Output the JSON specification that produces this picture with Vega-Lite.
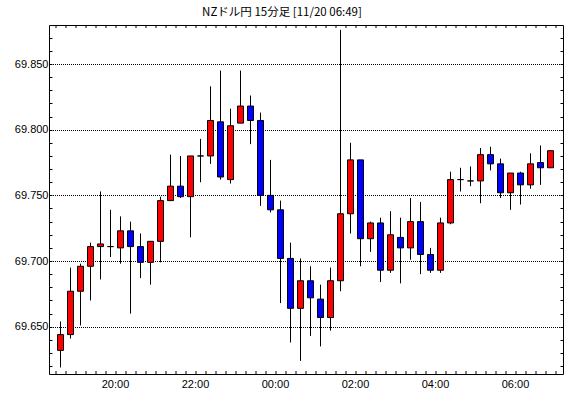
{
  "$schema": "https://vega.github.io/schema/vega-lite/v6.json",
  "width": 514,
  "height": 349,
  "autosize": {"type": "none"},
  "padding": {"left": 49, "top": 25, "right": 7, "bottom": 24},
  "background": "white",
  "title": {"text": "NZドル円 15分足 [11/20 06:49]", "font": "Noto Sans CJK JP", "fontSize": 11.5, "fontWeight": "normal", "color": "black", "anchor": "middle", "dx": -24, "offset": 6},
  "config": {
    "view": {"stroke": "black", "strokeWidth": 1},
    "axis": {"domain": false, "tickColor": "black", "labelColor": "black", "labelFont": "Liberation Sans", "labelFontSize": 11, "title": null}
  },
  "data": {"values": [
    {"t": "2024-11-19T18:30:00Z", "o": 69.632, "h": 69.654, "l": 69.619, "c": 69.644},
    {"t": "2024-11-19T18:45:00Z", "o": 69.644, "h": 69.695, "l": 69.641, "c": 69.677},
    {"t": "2024-11-19T19:00:00Z", "o": 69.677, "h": 69.698, "l": 69.651, "c": 69.696},
    {"t": "2024-11-19T19:15:00Z", "o": 69.696, "h": 69.714, "l": 69.670, "c": 69.711},
    {"t": "2024-11-19T19:30:00Z", "o": 69.711, "h": 69.753, "l": 69.686, "c": 69.713},
    {"t": "2024-11-19T19:45:00Z", "o": 69.711, "h": 69.739, "l": 69.703, "c": 69.711},
    {"t": "2024-11-19T20:00:00Z", "o": 69.710, "h": 69.734, "l": 69.698, "c": 69.723},
    {"t": "2024-11-19T20:15:00Z", "o": 69.723, "h": 69.730, "l": 69.660, "c": 69.711},
    {"t": "2024-11-19T20:30:00Z", "o": 69.711, "h": 69.721, "l": 69.687, "c": 69.699},
    {"t": "2024-11-19T20:45:00Z", "o": 69.699, "h": 69.715, "l": 69.682, "c": 69.715},
    {"t": "2024-11-19T21:00:00Z", "o": 69.715, "h": 69.749, "l": 69.699, "c": 69.746},
    {"t": "2024-11-19T21:15:00Z", "o": 69.746, "h": 69.781, "l": 69.746, "c": 69.757},
    {"t": "2024-11-19T21:30:00Z", "o": 69.757, "h": 69.780, "l": 69.748, "c": 69.749},
    {"t": "2024-11-19T21:45:00Z", "o": 69.749, "h": 69.780, "l": 69.718, "c": 69.780},
    {"t": "2024-11-19T22:00:00Z", "o": 69.780, "h": 69.793, "l": 69.760, "c": 69.780},
    {"t": "2024-11-19T22:15:00Z", "o": 69.780, "h": 69.833, "l": 69.774, "c": 69.807},
    {"t": "2024-11-19T22:30:00Z", "o": 69.806, "h": 69.845, "l": 69.762, "c": 69.764},
    {"t": "2024-11-19T22:45:00Z", "o": 69.762, "h": 69.816, "l": 69.759, "c": 69.803},
    {"t": "2024-11-19T23:00:00Z", "o": 69.805, "h": 69.845, "l": 69.805, "c": 69.818},
    {"t": "2024-11-19T23:15:00Z", "o": 69.818, "h": 69.826, "l": 69.789, "c": 69.807},
    {"t": "2024-11-19T23:30:00Z", "o": 69.807, "h": 69.813, "l": 69.742, "c": 69.750},
    {"t": "2024-11-19T23:45:00Z", "o": 69.750, "h": 69.777, "l": 69.737, "c": 69.739},
    {"t": "2024-11-20T00:00:00Z", "o": 69.739, "h": 69.746, "l": 69.668, "c": 69.702},
    {"t": "2024-11-20T00:15:00Z", "o": 69.702, "h": 69.714, "l": 69.638, "c": 69.664},
    {"t": "2024-11-20T00:30:00Z", "o": 69.664, "h": 69.702, "l": 69.624, "c": 69.685},
    {"t": "2024-11-20T00:45:00Z", "o": 69.685, "h": 69.696, "l": 69.643, "c": 69.672},
    {"t": "2024-11-20T01:00:00Z", "o": 69.671, "h": 69.682, "l": 69.635, "c": 69.657},
    {"t": "2024-11-20T01:15:00Z", "o": 69.657, "h": 69.695, "l": 69.647, "c": 69.685},
    {"t": "2024-11-20T01:30:00Z", "o": 69.685, "h": 69.876, "l": 69.677, "c": 69.736},
    {"t": "2024-11-20T01:45:00Z", "o": 69.736, "h": 69.790, "l": 69.721, "c": 69.777},
    {"t": "2024-11-20T02:00:00Z", "o": 69.777, "h": 69.777, "l": 69.696, "c": 69.717},
    {"t": "2024-11-20T02:15:00Z", "o": 69.717, "h": 69.730, "l": 69.707, "c": 69.729},
    {"t": "2024-11-20T02:30:00Z", "o": 69.729, "h": 69.733, "l": 69.684, "c": 69.693},
    {"t": "2024-11-20T02:45:00Z", "o": 69.693, "h": 69.738, "l": 69.691, "c": 69.720},
    {"t": "2024-11-20T03:00:00Z", "o": 69.718, "h": 69.733, "l": 69.683, "c": 69.710},
    {"t": "2024-11-20T03:15:00Z", "o": 69.710, "h": 69.748, "l": 69.701, "c": 69.730},
    {"t": "2024-11-20T03:30:00Z", "o": 69.730, "h": 69.745, "l": 69.690, "c": 69.705},
    {"t": "2024-11-20T03:45:00Z", "o": 69.705, "h": 69.710, "l": 69.691, "c": 69.693},
    {"t": "2024-11-20T04:00:00Z", "o": 69.693, "h": 69.733, "l": 69.691, "c": 69.729},
    {"t": "2024-11-20T04:15:00Z", "o": 69.729, "h": 69.768, "l": 69.728, "c": 69.762},
    {"t": "2024-11-20T04:30:00Z", "o": 69.762, "h": 69.771, "l": 69.753, "c": 69.762},
    {"t": "2024-11-20T04:45:00Z", "o": 69.761, "h": 69.772, "l": 69.757, "c": 69.761},
    {"t": "2024-11-20T05:00:00Z", "o": 69.761, "h": 69.786, "l": 69.744, "c": 69.781},
    {"t": "2024-11-20T05:15:00Z", "o": 69.781, "h": 69.787, "l": 69.769, "c": 69.774},
    {"t": "2024-11-20T05:30:00Z", "o": 69.774, "h": 69.778, "l": 69.748, "c": 69.752},
    {"t": "2024-11-20T05:45:00Z", "o": 69.752, "h": 69.767, "l": 69.739, "c": 69.767},
    {"t": "2024-11-20T06:00:00Z", "o": 69.767, "h": 69.768, "l": 69.743, "c": 69.758},
    {"t": "2024-11-20T06:15:00Z", "o": 69.758, "h": 69.782, "l": 69.755, "c": 69.774},
    {"t": "2024-11-20T06:30:00Z", "o": 69.775, "h": 69.788, "l": 69.758, "c": 69.771},
    {"t": "2024-11-20T06:45:00Z", "o": 69.771, "h": 69.784, "l": 69.771, "c": 69.784}
  ]},
  "layer": [
    {
      "mark": {"type": "rule", "color": "black", "strokeWidth": 1, "xOffset": 5},
      "encoding": {
        "x": {"field": "t", "type": "temporal",
          "scale": {"type": "utc", "domain": [1732040415000, 1732086675000], "padding": 0},
          "axis": {"orient": "bottom", "grid": false, "offset": -3, "tickSize": 3, "translate": 0,
            "values": [1732041000000, 1732041900000, 1732042800000, 1732043700000, 1732044600000, 1732045500000, 1732046400000, 1732047300000, 1732048200000, 1732049100000, 1732050000000, 1732050900000, 1732051800000, 1732052700000, 1732053600000, 1732054500000, 1732055400000, 1732056300000, 1732057200000, 1732058100000, 1732059000000, 1732059900000, 1732060800000, 1732061700000, 1732062600000, 1732063500000, 1732064400000, 1732065300000, 1732066200000, 1732067100000, 1732068000000, 1732068900000, 1732069800000, 1732070700000, 1732071600000, 1732072500000, 1732073400000, 1732074300000, 1732075200000, 1732076100000, 1732077000000, 1732077900000, 1732078800000, 1732079700000, 1732080600000, 1732081500000, 1732082400000, 1732083300000, 1732084200000, 1732085100000, 1732086000000],
            "labelExpr": "utchours(datum.value) % 2 == 0 && utcminutes(datum.value) == 0 ? utcFormat(datum.value, '%H:%M') : ''",
            "labelOverlap": false, "labelFlush": false, "labelPadding": 5}},
        "y": {"field": "l", "type": "quantitative",
          "scale": {"domain": [69.614, 69.8797], "nice": false, "zero": false},
          "axis": {"orient": "left", "offset": -3, "tickSize": 3, "labelPadding": 1,
            "values": [69.62, 69.63, 69.64, 69.65, 69.66, 69.67, 69.68, 69.69, 69.70, 69.71, 69.72, 69.73, 69.74, 69.75, 69.76, 69.77, 69.78, 69.79, 69.80, 69.81, 69.82, 69.83, 69.84, 69.85, 69.86, 69.87],
            "labelExpr": "abs(datum.value*20 - round(datum.value*20)) < 0.001 ? format(datum.value, '.3f') : ''",
            "grid": true, "gridColor": "black", "gridDash": [1, 1], "gridDashOffset": 0.5,
            "gridOpacity": {"condition": {"test": "abs(datum.value*20 - round(datum.value*20)) < 0.001", "value": 1}, "value": 0},
            "labelOverlap": false, "labelFlush": false}},
        "y2": {"field": "h"}
      }
    },
    {
      "mark": {"type": "bar", "width": 6, "stroke": "black", "strokeWidth": 1, "xOffset": 5},
      "encoding": {
        "x": {"field": "t", "type": "temporal",
          "axis": {"orient": "top", "grid": false, "labels": false, "offset": -3, "tickSize": 3, "translate": 0,
            "values": [1732041000000, 1732041900000, 1732042800000, 1732043700000, 1732044600000, 1732045500000, 1732046400000, 1732047300000, 1732048200000, 1732049100000, 1732050000000, 1732050900000, 1732051800000, 1732052700000, 1732053600000, 1732054500000, 1732055400000, 1732056300000, 1732057200000, 1732058100000, 1732059000000, 1732059900000, 1732060800000, 1732061700000, 1732062600000, 1732063500000, 1732064400000, 1732065300000, 1732066200000, 1732067100000, 1732068000000, 1732068900000, 1732069800000, 1732070700000, 1732071600000, 1732072500000, 1732073400000, 1732074300000, 1732075200000, 1732076100000, 1732077000000, 1732077900000, 1732078800000, 1732079700000, 1732080600000, 1732081500000, 1732082400000, 1732083300000, 1732084200000, 1732085100000, 1732086000000]}},
        "y": {"field": "o", "type": "quantitative",
          "axis": {"orient": "right", "offset": -3, "tickSize": 3, "labels": false, "grid": false,
            "values": [69.62, 69.63, 69.64, 69.65, 69.66, 69.67, 69.68, 69.69, 69.70, 69.71, 69.72, 69.73, 69.74, 69.75, 69.76, 69.77, 69.78, 69.79, 69.80, 69.81, 69.82, 69.83, 69.84, 69.85, 69.86, 69.87]}},
        "y2": {"field": "c"},
        "color": {"condition": {"test": "datum.c >= datum.o", "value": "#ff0000"}, "value": "#0000ff"}
      }
    }
  ],
  "resolve": {"axis": {"x": "independent", "y": "independent"}}
}
